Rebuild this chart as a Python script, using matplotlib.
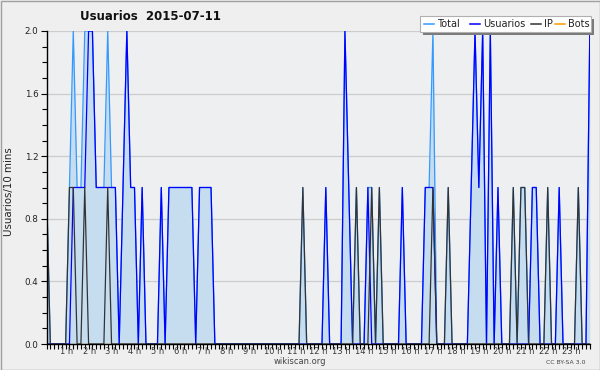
import matplotlib
matplotlib.use("Agg")
import matplotlib.pyplot as plt
from matplotlib.patches import Rectangle
from matplotlib.lines import Line2D
from matplotlib.ticker import MultipleLocator, FixedLocator

# ---- data: one value per 10 minutes (00:00 .. 23:40) ----
usuarios = [0, 0, 0, 0, 0, 0, 0, 1, 1, 1, 1, 2,
            2, 1, 1, 1, 1, 1, 1, 0, 1, 2, 1, 1,
            0, 1, 0, 0, 0, 0, 1, 0, 1, 1, 1, 1,
            1, 1, 1, 0, 1, 1, 1, 1, 0, 0, 0, 0,
            0, 0, 0, 0, 0, 0, 0, 0, 0, 0, 0, 0,
            0, 0, 0, 0, 0, 0, 0, 0, 0, 0, 0, 0,
            0, 1, 0, 0, 0, 0, 2, 1, 0, 0, 0, 0,
            1, 0, 0, 0, 0, 0, 0, 0, 0, 1, 0, 0,
            0, 0, 0, 1, 1, 1, 0, 0, 0, 0, 0, 0,
            0, 0, 0, 1, 2, 1, 2, 0, 2, 0, 1, 0,
            0, 0, 0, 0, 0, 0, 0, 1, 1, 0, 0, 0,
            0, 0, 1, 0, 0, 0, 0, 0, 0, 0, 2]
ip = [1, 0, 0, 0, 0, 0, 1, 1, 0, 0, 1, 0,
      0, 0, 0, 0, 1, 0, 0, 0, 0, 0, 0, 0,
      0, 0, 0, 0, 0, 0, 0, 0, 0, 0, 0, 0,
      0, 0, 0, 0, 0, 0, 0, 0, 0, 0, 0, 0,
      0, 0, 0, 0, 0, 0, 0, 0, 0, 0, 0, 0,
      0, 0, 0, 0, 0, 0, 0, 1, 0, 0, 0, 0,
      0, 0, 0, 0, 0, 0, 0, 0, 0, 1, 0, 0,
      0, 1, 0, 1, 0, 0, 0, 0, 0, 0, 0, 0,
      0, 0, 0, 0, 0, 1, 0, 0, 0, 1, 0, 0,
      0, 0, 0, 0, 0, 0, 0, 0, 0, 0, 0, 0,
      0, 0, 1, 0, 1, 1, 0, 0, 0, 0, 0, 1,
      0, 0, 0, 0, 0, 0, 0, 1, 0, 0, 0]
total = [1, 0, 0, 0, 0, 0, 1, 2, 1, 1, 2, 2,
         2, 1, 1, 1, 2, 1, 1, 0, 1, 2, 1, 1,
         0, 1, 0, 0, 0, 0, 1, 0, 1, 1, 1, 1,
         1, 1, 1, 0, 1, 1, 1, 1, 0, 0, 0, 0,
         0, 0, 0, 0, 0, 0, 0, 0, 0, 0, 0, 0,
         0, 0, 0, 0, 0, 0, 0, 1, 0, 0, 0, 0,
         0, 1, 0, 0, 0, 0, 2, 1, 0, 1, 0, 0,
         1, 1, 0, 1, 0, 0, 0, 0, 0, 1, 0, 0,
         0, 0, 0, 1, 1, 2, 0, 0, 0, 1, 0, 0,
         0, 0, 0, 1, 2, 1, 2, 0, 2, 0, 1, 0,
         0, 0, 1, 0, 1, 1, 0, 1, 1, 0, 0, 1,
         0, 0, 1, 0, 0, 0, 0, 1, 0, 0, 2]
bots = [0] * 143

hour_labels = ["%d h" % h for h in range(1, 24)]
ytick_values = [0.0, 0.4, 0.8, 1.2, 1.6, 2.0]
title = "Usuarios  2015-07-11"
ylabel = "Usuarios/10 mins"
legend_names = ["Total", "Usuarios", "IP", "Bots"]
colors = {"Total": "#3399ff", "Usuarios": "#0000ff", "IP": "#333333", "Bots": "#ff9900"}

W, H = 600, 370
fig = plt.figure(figsize=(W / 100, H / 100), dpi=100, facecolor="#efefef")

def fx(px):
    return px / W

def fy(py):
    return 1 - py / H

L, R, B, T = 46.5, 589.8, 344, 31
ax = fig.add_axes([fx(L), fy(B), (R - L) / W, (B - T) / H])
ax.set_facecolor("#eeeff1")

x = list(range(len(total)))
ax.fill_between(x, total, color="#c6ddf0", lw=0, zorder=1)
ax.plot(x, bots, color=colors["Bots"], lw=0.9, zorder=2)
ax.plot(x, total, color=colors["Total"], lw=0.9, zorder=3)
ax.plot(x, usuarios, color=colors["Usuarios"], lw=0.9, zorder=4)
ax.plot(x, ip, color=colors["IP"], lw=0.9, zorder=5)

ax.set_xlim(0, len(total) - 1)
ax.set_ylim(0, 2.0)

for s in ["top", "right"]:
    ax.spines[s].set_visible(False)
for s in ["left", "bottom"]:
    ax.spines[s].set_color("black")
    ax.spines[s].set_linewidth(1.0)
    ax.spines[s].set_zorder(10)

ax.yaxis.set_major_locator(FixedLocator(ytick_values))
ax.set_yticklabels(["%.1f" % v for v in ytick_values], fontsize=6.3, color="#222222")
ax.yaxis.set_minor_locator(MultipleLocator(0.1))
ax.tick_params(axis="y", which="major", length=4, width=0.8, pad=2)
ax.tick_params(axis="y", which="minor", length=3.5, width=0.8)
ax.grid(axis="y", which="major", color="#cccccc", lw=0.9, zorder=0)
ax.set_axisbelow(True)

ax.xaxis.set_major_locator(FixedLocator(list(range(0, len(total)))))
ax.set_xticklabels([])
ax.tick_params(axis="x", which="major", length=3.5, width=0.8)

for h, lab in enumerate(hour_labels, start=1):
    ax.text(6 * h - 0.85, -0.009, lab, ha="center", va="top", fontsize=6.0,
            color="#3a3a3a", transform=ax.get_xaxis_transform(), clip_on=False)

fig.text(fx(80), fy(17), title, ha="left", va="center", fontsize=8.5,
         fontweight="bold", color="#111111")
fig.text(fx(9), fy(192), ylabel, ha="center", va="center", rotation=90,
         fontsize=7.4, color="#222222")
fig.text(fx(300), fy(362), "wikiscan.org", ha="center", va="center",
         fontsize=6.0, color="#444444")
fig.text(fx(566), fy(363), "CC BY-SA 3.0", ha="center", va="center",
         fontsize=4.4, color="#444444")

# legend box with shadow
lx0, ly0, lx1, ly1 = 420, 16, 591, 32
fig.add_artist(Rectangle((fx(lx0 + 3), fy(ly1 + 3)), (lx1 - lx0) / W, (ly1 - ly0) / H,
                         transform=fig.transFigure, facecolor="#7a7a7a", edgecolor="none", zorder=20))
fig.add_artist(Rectangle((fx(lx0), fy(ly1)), (lx1 - lx0) / W, (ly1 - ly0) / H,
                         transform=fig.transFigure, facecolor="white", edgecolor="#b0b0b0",
                         lw=0.8, zorder=21))
entry_x = [424, 470, 531, 555]
for name, ex in zip(legend_names, entry_x):
    fig.add_artist(Line2D([fx(ex), fx(ex + 10)], [fy(24), fy(24)], color=colors[name],
                          lw=1.1, transform=fig.transFigure, zorder=22))
    fig.text(fx(ex + 13), fy(24), name, ha="left", va="center", fontsize=7,
             color="#222222", zorder=22)

# outer border
fig.add_artist(Rectangle((0.5 / W, 0.5 / H), 1 - 1 / W, 1 - 1 / H, transform=fig.transFigure,
                         facecolor="none", edgecolor="#a0a0a0", lw=1, zorder=30))

fig.savefig("out.png", dpi=100, facecolor=fig.get_facecolor())
